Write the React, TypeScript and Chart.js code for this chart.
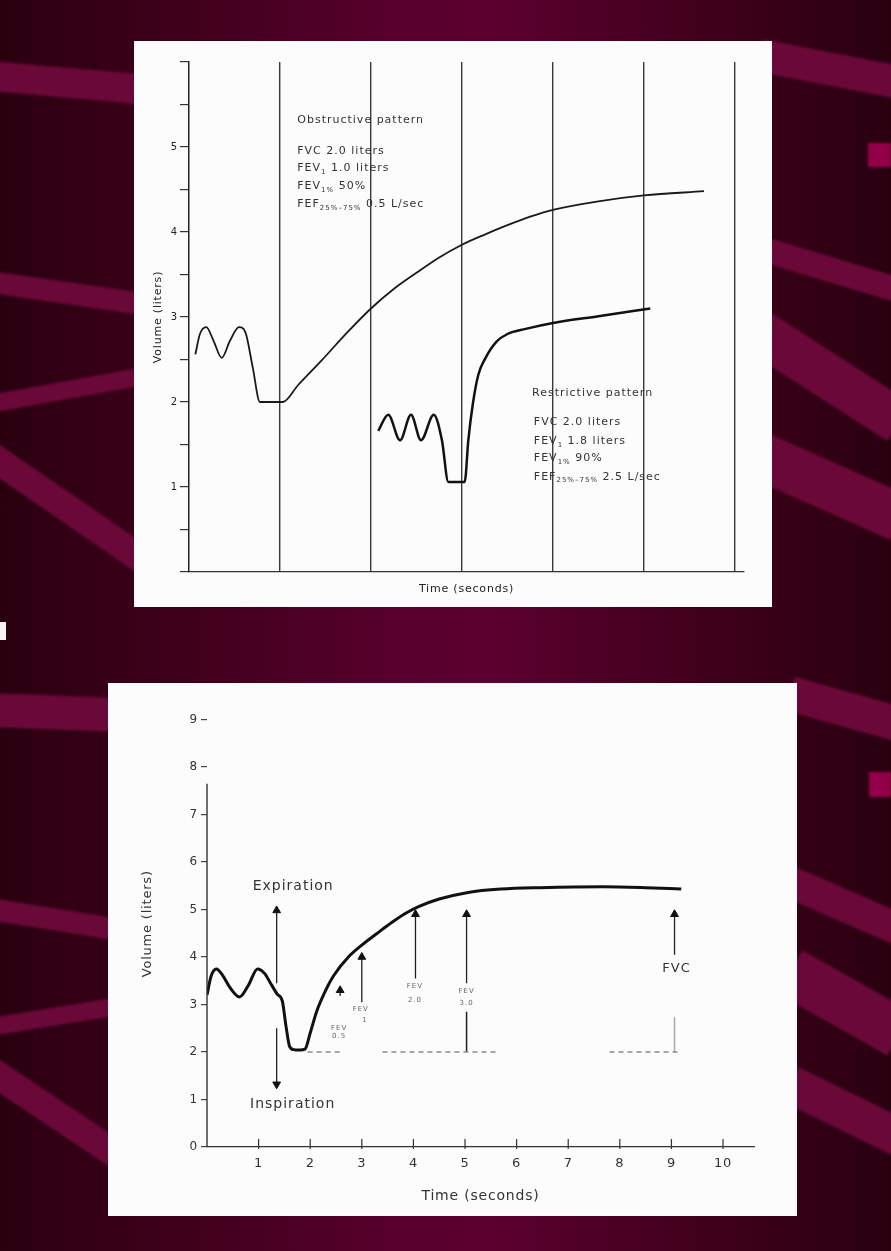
import React, { useEffect, useRef } from "react";
import { Chart, registerables } from "chart.js";

Chart.register(...registerables);

const FONT = "'DejaVu Sans', 'Liberation Sans', sans-serif";
Chart.defaults.font.family = FONT;
Chart.defaults.color = "#222";

// ---------------- Top chart: obstructive vs restrictive ----------------
const obstructiveTime = [0.07, 0.12, 0.19, 0.27, 0.36, 0.45, 0.55, 0.62, 0.7, 0.78, 1.03, 1.2, 1.45, 1.75, 2.0, 2.25, 2.5, 2.75, 3.0, 3.25, 3.5, 3.75, 4.0, 4.5, 5.0, 5.66];
const obstructiveVolume = [2.56, 2.8, 2.88, 2.72, 2.52, 2.72, 2.88, 2.82, 2.41, 2.0, 2.0, 2.2, 2.48, 2.83, 3.1, 3.33, 3.52, 3.7, 3.85, 3.97, 4.08, 4.18, 4.26, 4.36, 4.43, 4.48];
const restrictiveTime = [2.08, 2.19, 2.32, 2.44, 2.55, 2.69, 2.78, 2.85, 3.03, 3.07, 3.12, 3.18, 3.26, 3.38, 3.5, 3.7, 4.0, 4.5, 5.07];
const restrictiveVolume = [1.66, 1.85, 1.55, 1.85, 1.55, 1.85, 1.55, 1.06, 1.06, 1.55, 1.98, 2.32, 2.52, 2.71, 2.8, 2.86, 2.93, 3.01, 3.1];
const topYLabels = [1, 2, 3, 4, 5];

// ---------------- Bottom chart: normal forced expiration ----------------
const forcedTime = [0, 0.08, 0.18, 0.3, 0.45, 0.63, 0.8, 0.98, 1.12, 1.22, 1.36, 1.46, 1.53, 1.6, 1.68, 1.8, 1.9, 2.0, 2.13, 2.3, 2.45, 2.74, 3.0, 3.3, 3.6, 3.85, 4.1, 4.5, 5.06, 5.7, 6.45, 7.67, 8.5, 9.19];
const forcedVolume = [3.2, 3.6, 3.75, 3.62, 3.35, 3.16, 3.4, 3.75, 3.65, 3.47, 3.22, 3.07, 2.55, 2.12, 2.05, 2.04, 2.06, 2.4, 2.87, 3.3, 3.6, 4.0, 4.25, 4.5, 4.74, 4.92, 5.06, 5.22, 5.36, 5.43, 5.46, 5.48, 5.46, 5.43];
const baselineVolume = 2.0;
const baselineStart = [1.95, 3.4, 7.8];
const baselineEnd = [2.58, 5.6, 9.15];
// arrows: expiration, inspiration, FEV0.5, FEV1, FEV2, FEV3, FVC
const arrowTime = [1.35, 1.35, 2.58, 3.0, 4.04, 5.03, 9.06];
const arrowFrom = [3.45, 2.5, 3.18, 3.05, 3.55, 3.45, 4.05];
const arrowTo = [4.98, 1.32, 3.3, 4.0, 4.9, 4.9, 4.9];
const stemTime = [5.03, 9.06];
const stemFrom = [2.0, 2.0];
const stemTo = [2.85, 2.73];
const stemColor = ["#222", "#aaa"];
const bottomXLabels = [1, 2, 3, 4, 5, 6, 7, 8, 9, 10];
const yAxisTop = 7.65;

type Seg = [string, boolean];
type Note = { x: number; y: number; segs: Seg[]; size: number; align: "left" | "center"; color: string };

const T = (s: string): Seg => [s, false];
const S = (s: string): Seg => [s, true];

const topNotes: Note[] = [
  { x: 1.19, y: 5.32, segs: [T("Obstructive pattern")], size: 11, align: "left", color: "#333" },
  { x: 1.19, y: 4.95, segs: [T("FVC 2.0 liters")], size: 11, align: "left", color: "#333" },
  { x: 1.19, y: 4.75, segs: [T("FEV"), S("1"), T(" 1.0 liters")], size: 11, align: "left", color: "#333" },
  { x: 1.19, y: 4.54, segs: [T("FEV"), S("1%"), T(" 50%")], size: 11, align: "left", color: "#333" },
  { x: 1.19, y: 4.33, segs: [T("FEF"), S("25%–75%"), T(" 0.5 L/sec")], size: 11, align: "left", color: "#333" },
  { x: 3.77, y: 2.11, segs: [T("Restrictive pattern")], size: 11, align: "left", color: "#333" },
  { x: 3.79, y: 1.76, segs: [T("FVC 2.0 liters")], size: 11, align: "left", color: "#333" },
  { x: 3.79, y: 1.54, segs: [T("FEV"), S("1"), T(" 1.8 liters")], size: 11, align: "left", color: "#333" },
  { x: 3.79, y: 1.34, segs: [T("FEV"), S("1%"), T(" 90%")], size: 11, align: "left", color: "#333" },
  { x: 3.79, y: 1.12, segs: [T("FEF"), S("25%–75%"), T(" 2.5 L/sec")], size: 11, align: "left", color: "#333" },
];

const bottomNotes: Note[] = [
  { x: 1.67, y: 5.49, segs: [T("Expiration")], size: 14, align: "center", color: "#333" },
  { x: 1.66, y: 0.9, segs: [T("Inspiration")], size: 14, align: "center", color: "#333" },
  { x: 9.1, y: 3.75, segs: [T("FVC")], size: 13, align: "center", color: "#333" },
  { x: 2.56, y: 2.5, segs: [T("FEV")], size: 7, align: "center", color: "#666" },
  { x: 2.56, y: 2.33, segs: [T("0.5")], size: 7, align: "center", color: "#666" },
  { x: 2.98, y: 2.9, segs: [T("FEV")], size: 7, align: "center", color: "#666" },
  { x: 3.06, y: 2.66, segs: [T("1")], size: 7, align: "center", color: "#666" },
  { x: 4.03, y: 3.38, segs: [T("FEV")], size: 7, align: "center", color: "#666" },
  { x: 4.03, y: 3.1, segs: [T("2.0")], size: 7, align: "center", color: "#666" },
  { x: 5.03, y: 3.27, segs: [T("FEV")], size: 7, align: "center", color: "#666" },
  { x: 5.03, y: 3.03, segs: [T("3.0")], size: 7, align: "center", color: "#666" },
];

// decorative background stripes: [x0, y0, x1, y1, thickness]
const stripes = [
  [-10, 76, 150, 90, 30],
  [-10, 282, 150, 305, 22],
  [-10, 404, 150, 375, 18],
  [-10, 455, 150, 565, 28],
  [760, 55, 900, 82, 33],
  [760, 248, 900, 290, 25],
  [760, 332, 900, 422, 45],
  [760, 456, 900, 518, 48],
  [-10, 710, 120, 715, 34],
  [-10, 909, 120, 930, 22],
  [-10, 1027, 120, 1006, 18],
  [-10, 1070, 120, 1157, 28],
  [790, 693, 900, 724, 35],
  [790, 882, 900, 930, 32],
  [790, 972, 900, 1034, 50],
  [790, 1084, 900, 1138, 38],
];
const blocks = [
  [868, 143, 23, 24],
  [869, 772, 22, 25],
];

function drawRich(ctx: CanvasRenderingContext2D, segs: Seg[], x: number, y: number, size: number, align: string, color: string) {
  const sub = Math.max(5, Math.round(size * 0.62));
  const fontOf = (s: boolean) => `${s ? sub : size}px ${FONT}`;
  let total = 0;
  segs.forEach(([t, s]) => {
    ctx.font = fontOf(s);
    total += ctx.measureText(t).width;
  });
  let cx = align === "center" ? x - total / 2 : x;
  ctx.fillStyle = color;
  ctx.textAlign = "left";
  ctx.textBaseline = "middle";
  segs.forEach(([t, s]) => {
    ctx.font = fontOf(s);
    ctx.fillText(t, cx, s ? y + size * 0.35 : y);
    cx += ctx.measureText(t).width;
  });
}

function notesPlugin(notes: Note[], extra?: (chart: any) => void) {
  return {
    id: "notes",
    beforeDraw(chart: any) {
      chart.ctx.letterSpacing = "0.8px";
    },
    afterDatasetsDraw(chart: any) {
      const { ctx, scales } = chart;
      ctx.save();
      ctx.letterSpacing = "1px";
      for (const n of notes) {
        drawRich(ctx, n.segs, scales.x.getPixelForValue(n.x), scales.y.getPixelForValue(n.y), n.size, n.align, n.color);
      }
      ctx.restore();
      if (extra) extra(chart);
    },
  };
}

function lineData(xs: number[], ys: number[]) {
  return xs.map((x, i) => ({ x, y: ys[i] }));
}

function buildTop(): any {
  return {
    type: "line",
    data: {
      datasets: [
        {
          data: lineData(obstructiveTime, obstructiveVolume),
          borderColor: "#1a1a1a",
          borderWidth: 1.8,
          pointRadius: 0,
          cubicInterpolationMode: "monotone",
        },
        {
          data: lineData(restrictiveTime, restrictiveVolume),
          borderColor: "#111",
          borderWidth: 2.5,
          pointRadius: 0,
          cubicInterpolationMode: "monotone",
        },
      ],
    },
    options: {
      animation: false,
      responsive: false,
      maintainAspectRatio: false,
      devicePixelRatio: 1,
      layout: { padding: { top: 21, right: 28, left: 0, bottom: 0 } },
      plugins: { legend: { display: false }, tooltip: { enabled: false } },
      scales: {
        x: {
          type: "linear",
          min: 0,
          max: 6.1,
          afterFit: (s: any) => {
            s.height = 35;
          },
          ticks: { stepSize: 1, display: false, includeBounds: false },
          grid: {
            drawTicks: false,
            drawOnChartArea: true,
            lineWidth: 1.4,
            color: (c: any) =>
              c.tick && Number.isInteger(c.tick.value) && c.tick.value > 0 ? "#3a3a3a" : "rgba(0,0,0,0)",
          },
          border: { display: true, color: "#333", width: 1.3 },
          title: {
            display: true,
            text: "Time (seconds)",
            color: "#222",
            font: { size: 11, family: FONT },
            padding: { top: 0, bottom: 11 },
          },
        },
        y: {
          type: "linear",
          min: 0,
          max: 6,
          afterFit: (s: any) => {
            s.width = 55;
          },
          ticks: {
            stepSize: 0.5,
            padding: 2,
            color: "#222",
            font: { size: 10 },
            callback: (v: number) => (topYLabels.includes(v) ? String(v) : ""),
          },
          grid: { drawOnChartArea: false, drawTicks: true, tickLength: 9, color: "#333", lineWidth: 1.2 },
          border: { display: true, color: "#222", width: 1.5 },
          title: {
            display: true,
            text: "Volume (liters)",
            color: "#222",
            font: { size: 11, family: FONT },
            padding: { top: 18, bottom: 0 },
          },
        },
      },
    },
    plugins: [notesPlugin(topNotes)],
  };
}

function buildBottom(): any {
  const baseline: any[] = [];
  baselineStart.forEach((s, i) => {
    if (i > 0) baseline.push({ x: (baselineEnd[i - 1] + s) / 2, y: null });
    baseline.push({ x: s, y: baselineVolume });
    baseline.push({ x: baselineEnd[i], y: baselineVolume });
  });
  const arrows = arrowTime.map((t, i) => ({
    data: [
      { x: t, y: arrowFrom[i] },
      { x: t, y: arrowTo[i] },
    ],
    borderColor: "#222",
    borderWidth: 1.3,
    pointRadius: [0, 4.5],
    pointStyle: "triangle",
    pointRotation: [0, arrowTo[i] < arrowFrom[i] ? 180 : 0],
    pointBackgroundColor: "#111",
    pointBorderColor: "#111",
    pointBorderWidth: 1,
  }));
  const stems = stemTime.map((t, i) => ({
    data: [
      { x: t, y: stemFrom[i] },
      { x: t, y: stemTo[i] },
    ],
    borderColor: stemColor[i],
    borderWidth: 1.5,
    pointRadius: 0,
  }));
  const extra = (chart: any) => {
    const { ctx, scales } = chart;
    const x0 = scales.x.getPixelForValue(0);
    const yb = scales.y.getPixelForValue(0);
    ctx.save();
    ctx.strokeStyle = "#333";
    ctx.lineWidth = 1.4;
    ctx.beginPath();
    ctx.moveTo(x0, yb);
    ctx.lineTo(x0, scales.y.getPixelForValue(yAxisTop));
    ctx.stroke();
    ctx.lineWidth = 1.2;
    for (const v of bottomXLabels) {
      const px = scales.x.getPixelForValue(v);
      ctx.beginPath();
      ctx.moveTo(px, yb - 8);
      ctx.lineTo(px, yb + 2);
      ctx.stroke();
    }
    ctx.restore();
  };
  return {
    type: "line",
    data: {
      datasets: [
        {
          data: lineData(forcedTime, forcedVolume),
          borderColor: "#111",
          borderWidth: 3,
          pointRadius: 0,
          cubicInterpolationMode: "monotone",
        },
        {
          data: baseline,
          borderColor: "#8a8a8a",
          borderWidth: 1.5,
          borderDash: [5, 4],
          pointRadius: 0,
          spanGaps: false,
        },
        ...arrows,
        ...stems,
      ],
    },
    options: {
      animation: false,
      responsive: false,
      maintainAspectRatio: false,
      devicePixelRatio: 1,
      layout: { padding: { top: 17.5, right: 43, left: 0, bottom: 0 } },
      plugins: { legend: { display: false }, tooltip: { enabled: false } },
      scales: {
        x: {
          type: "linear",
          min: 0,
          max: 10.6,
          afterFit: (s: any) => {
            s.height = 69;
          },
          ticks: {
            stepSize: 1,
            padding: 9,
            color: "#333",
            font: { size: 13 },
            maxRotation: 0,
            autoSkip: false,
            includeBounds: false,
            callback: (v: number) => (bottomXLabels.includes(v) ? String(v) : ""),
          },
          grid: { display: false, drawTicks: false },
          border: { display: true, color: "#333", width: 1.3 },
          title: {
            display: true,
            text: "Time (seconds)",
            color: "#333",
            font: { size: 14, family: FONT },
            padding: { top: 0, bottom: 11.6 },
          },
        },
        y: {
          type: "linear",
          min: 0,
          max: 9.4,
          afterFit: (s: any) => {
            s.width = 99;
          },
          ticks: {
            stepSize: 1,
            padding: 3,
            color: "#333",
            font: { size: 12 },
            includeBounds: false,
            callback: (v: number) => (Number.isInteger(v) ? String(v) : ""),
          },
          grid: { drawOnChartArea: false, drawTicks: true, tickLength: 6, color: "#444", lineWidth: 1.2 },
          border: { display: false },
          title: {
            display: true,
            text: "Volume (liters)",
            color: "#333",
            font: { size: 13, family: FONT },
            padding: { top: 32, bottom: 0 },
          },
        },
      },
    },
    plugins: [notesPlugin(bottomNotes, extra)],
  };
}

function ChartCanvas({ width, height, build }: { width: number; height: number; build: () => any }) {
  const ref = useRef<HTMLCanvasElement>(null);
  useEffect(() => {
    if (!ref.current) return;
    const chart = new Chart(ref.current, build());
    return () => chart.destroy();
  }, []);
  return <canvas ref={ref} width={width} height={height} style={{ display: "block", width, height }} />;
}

export default function App() {
  return (
    <div
      style={{
        position: "absolute",
        left: 0,
        top: 0,
        width: 891,
        height: 1251,
        overflow: "hidden",
        background:
          "linear-gradient(to right, #2a000f 0%, #3c0019 18%, #58002d 45%, #5c002f 55%, #3c0019 82%, #2a000f 100%)",
      }}
    >
      {stripes.map(([x0, y0, x1, y1, t], i) => {
        const len = Math.hypot(x1 - x0, y1 - y0);
        const ang = (Math.atan2(y1 - y0, x1 - x0) * 180) / Math.PI;
        return (
          <div
            key={"s" + i}
            style={{
              position: "absolute",
              left: x0,
              top: y0 - t / 2,
              width: len,
              height: t,
              background: "#6a0838",
              transformOrigin: `0px ${t / 2}px`,
              transform: `rotate(${ang}deg)`,
              filter: "blur(1px)",
            }}
          />
        );
      })}
      {blocks.map(([x, y, w, h], i) => (
        <div
          key={"b" + i}
          style={{ position: "absolute", left: x, top: y, width: w, height: h, background: "#930049", filter: "blur(1px)" }}
        />
      ))}
      <div style={{ position: "absolute", left: 0, top: 622, width: 6, height: 18, background: "#f4f4f4" }} />
      <div style={{ position: "absolute", left: 134, top: 41, width: 638, height: 566, background: "#fcfcfc" }}>
        <ChartCanvas width={638} height={566} build={buildTop} />
      </div>
      <div style={{ position: "absolute", left: 108, top: 683, width: 689, height: 533, background: "#fcfcfc" }}>
        <ChartCanvas width={689} height={533} build={buildBottom} />
      </div>
    </div>
  );
}
